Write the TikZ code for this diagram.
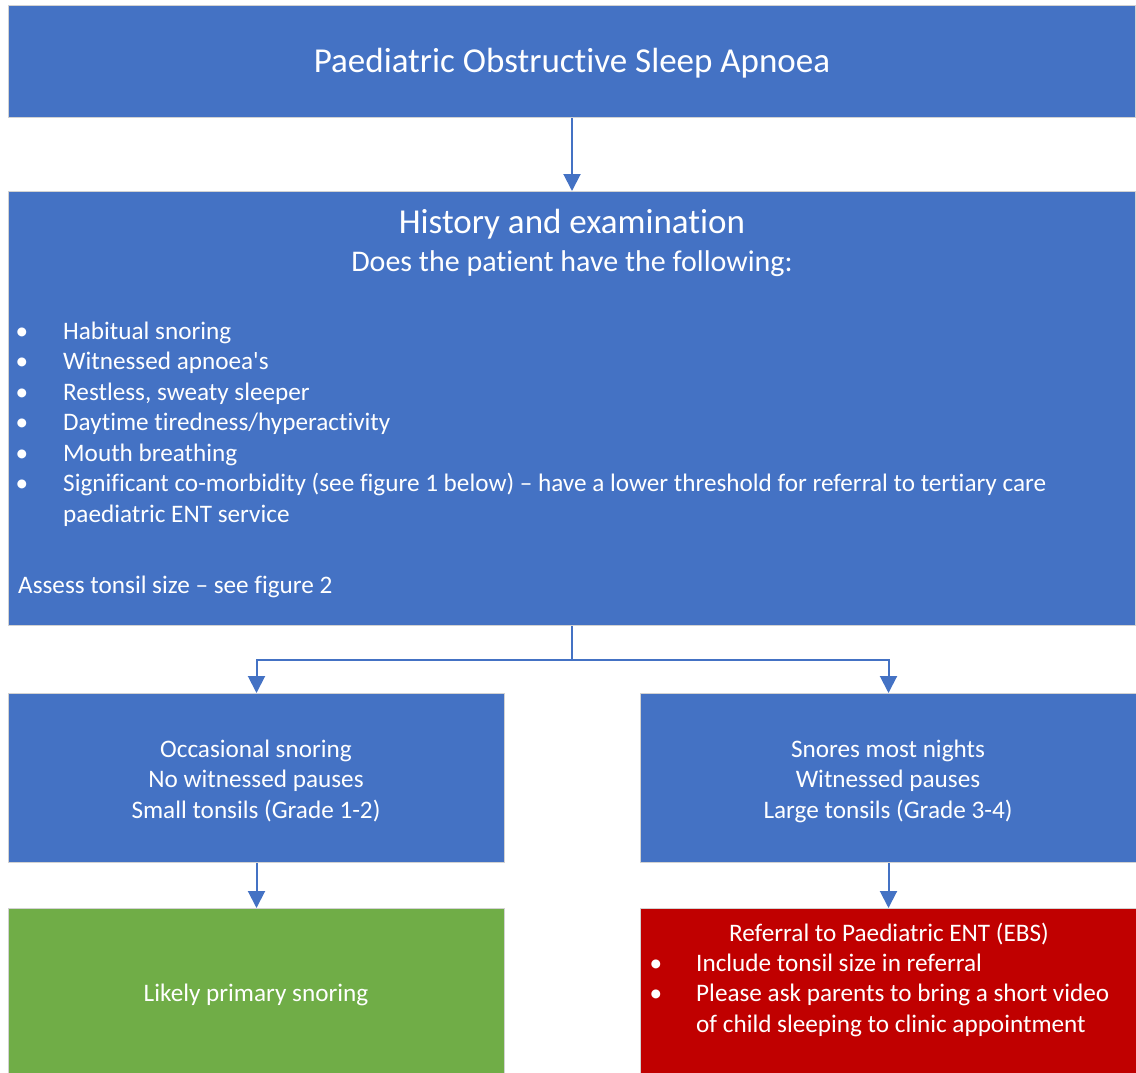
\documentclass[tikz,border=0pt]{standalone}
\usepackage{fontspec}
\setmainfont{Carlito}[Ligatures={TeX,NoCommon}]
\usetikzlibrary{arrows.meta}

\definecolor{boxblue}{HTML}{4472C4}
\definecolor{boxgreen}{HTML}{70AD47}
\definecolor{boxred}{HTML}{C00000}
\definecolor{edgegray}{HTML}{D2D2D2}

\tikzset{
  panel/.style={draw=edgegray, line width=1pt, inner sep=0pt, anchor=north west,
                text=white, align=center},
  link/.style={draw=boxblue, line width=2pt, -{Triangle[width=17pt,length=17pt]}},
  body/.style={text=white, inner sep=0pt, anchor=base west,
               font=\fontsize{25.2}{30.5}\selectfont},
  mid/.style={body, anchor=base},
  dot/.style={body, anchor=base},
}

\begin{document}
\begin{tikzpicture}[x=1pt,y=-1pt]
  \useasboundingbox (0,0) rectangle (1136,1073);

  % boxes
  \node[panel, fill=boxblue, minimum width=1127pt, minimum height=112pt,
        text depth=2pt, font=\fontsize{35}{42}\selectfont] (title) at (8,5)
        {Paediatric Obstructive Sleep Apnoea};
  \node[panel, fill=boxblue, minimum width=1127pt, minimum height=434pt] (hist) at (8,191) {};
  \node[panel, fill=boxblue, minimum width=496pt, minimum height=169pt] (occ) at (8,693) {};
  \node[panel, fill=boxblue, minimum width=496pt, minimum height=169pt] (most) at (640,693) {};
  \node[panel, fill=boxgreen, minimum width=496pt, minimum height=175pt] (primary) at (8,908) {};
  \node[panel, fill=boxred, minimum width=496pt, minimum height=175pt] (refer) at (640,908) {};

  % history and examination
  \node[text=white, inner sep=0pt, anchor=base, font=\fontsize{35}{42}\selectfont]
       (histhead) at (572,233) {History and examination};
  \node[text=white, inner sep=0pt, anchor=base, font=\fontsize{30}{36}\selectfont]
       (histask) at (572,271) {Does the patient have the following:};

  \node[dot] (d1) at (22,339)   {•};
  \node[dot] (d2) at (22,369.5) {•};
  \node[dot] (d3) at (22,400)   {•};
  \node[dot] (d4) at (22,430.5) {•};
  \node[dot] (d5) at (22,461)   {•};
  \node[dot] (d6) at (22,491.5) {•};
  \node[body] (i1) at (63,339)   {Habitual snoring};
  \node[body] (i2) at (63,369.5) {Witnessed apnoea\textquotesingle s};
  \node[body] (i3) at (63,400)   {Restless, sweaty sleeper};
  \node[body] (i4) at (63,430.5) {Daytime tiredness/hyperactivity};
  \node[body] (i5) at (63,461)   {Mouth breathing};
  \node[body] (i6) at (63,491.5) {Significant co-morbidity (see figure 1 below) – have a lower threshold for referral to tertiary care};
  \node[body] (i6b) at (63,522)  {paediatric ENT service};
  \node[body] (tonsil) at (18,593) {Assess tonsil size – see figure 2};

  % branch texts
  \node[mid] (o1) at (256,757) {Occasional snoring};
  \node[mid] (o2) at (256,787.5) {No witnessed pauses};
  \node[mid] (o3) at (256,818) {Small tonsils (Grade 1-2)};
  \node[mid] (m1) at (888,757) {Snores most nights};
  \node[mid] (m2) at (888,787.5) {Witnessed pauses};
  \node[mid] (m3) at (888,818) {Large tonsils (Grade 3-4)};

  % outcomes
  \node[mid] (p1) at (256,1001) {Likely primary snoring};
  \node[mid] (r1) at (889,941) {Referral to Paediatric ENT (EBS)};
  \node[dot] (rd1) at (656,971) {•};
  \node[dot] (rd2) at (656,1001.5) {•};
  \node[body] (r2) at (696,971) {Include tonsil size in referral};
  \node[body] (r3) at (696,1001.5) {Please ask parents to bring a short video};
  \node[body] (r4) at (696,1032) {of child sleeping to clinic appointment};

  % connectors
  \draw[link] (title.south) -- (hist.north);
  \draw[link] (hist.south) -- ++(0,34) -| (occ.north);
  \draw[link] (hist.south) -- ++(0,34) -| (most.north);
  \draw[link] (occ.south) -- (primary.north);
  \draw[link] (most.south) -- (refer.north);
\end{tikzpicture}
\end{document}
